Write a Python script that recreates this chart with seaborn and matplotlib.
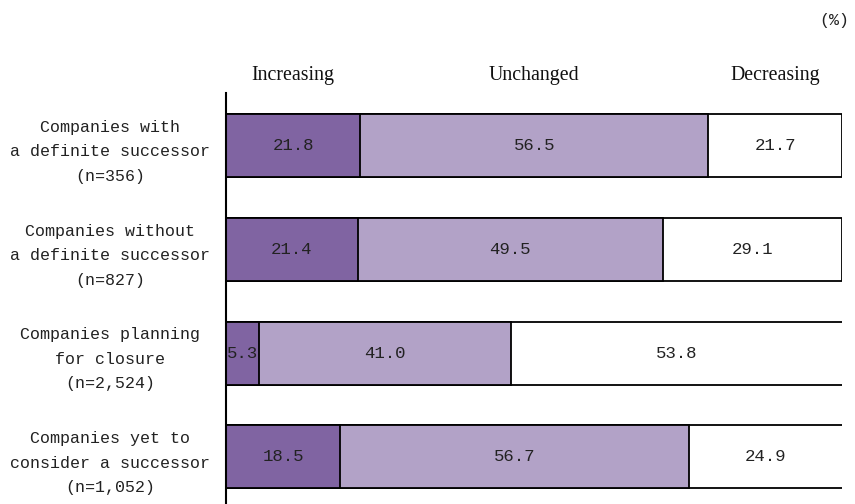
import matplotlib
matplotlib.use("Agg")
import matplotlib.pyplot as plt
import seaborn as sns
import numpy as np
import pandas as pd

# Shares of companies by outlook, per succession status (%)
groups = [
    "Companies with\na definite successor\n(n=356)",
    "Companies without\na definite successor\n(n=827)",
    "Companies planning\nfor closure\n(n=2,524)",
    "Companies yet to\nconsider a successor\n(n=1,052)",
]
series_names = ["Increasing", "Unchanged", "Decreasing"]
increasing = [21.8, 21.4, 5.3, 18.5]
unchanged = [56.5, 49.5, 41.0, 56.7]
decreasing = [21.7, 29.1, 53.8, 24.9]

colors = ["#8064A2", "#B2A2C7", "#FFFFFF"]

sns.set_theme(style="white")
mono = "Liberation Mono"
serif = "Liberation Serif"

values = np.array([increasing, unchanged, decreasing])
cum = np.cumsum(values, axis=0)

df = pd.DataFrame({"group": groups})
for name, c in zip(series_names, cum):
    df[name] = c

fig = plt.figure(figsize=(8.55, 5.04), dpi=100)
ax = fig.add_axes([226 / 855, 0.0, (842 - 226) / 855, 1 - 93 / 504])

# stacked bars: draw cumulative totals from the outside in
for name, col in reversed(list(zip(series_names, colors))):
    sns.barplot(data=df, x=name, y="group", orient="h", color=col,
                saturation=1, width=0.607, edgecolor="black", linewidth=1.3,
                ax=ax)

ax.set_xlim(0, 100)
ax.set_ylim(3.454, -0.506)
ax.set_xlabel("")
ax.set_ylabel("")
ax.set_xticks([])
for side in ["top", "right", "bottom"]:
    ax.spines[side].set_visible(False)
ax.spines["left"].set_color("black")
ax.spines["left"].set_linewidth(1.5)

ax.tick_params(axis="y", length=0, pad=83.5)
for lbl in ax.get_yticklabels():
    lbl.set_horizontalalignment("center")
    lbl.set_multialignment("center")
    lbl.set_fontfamily(mono)
    lbl.set_fontsize(12)
    lbl.set_color("#222222")
    lbl.set_linespacing(1.8)

# value labels centred in each segment
for i in range(len(groups)):
    start = 0.0
    for k in range(len(series_names)):
        v = values[k, i]
        ax.text(start + v / 2, i, f"{v:.1f}", ha="center", va="center",
                fontfamily=mono, fontsize=12.5, color="#222222")
        start += v

# column headers over the first row's segments
start = 0.0
for k, name in enumerate(series_names):
    v = values[k, 0]
    ax.text(start + v / 2, -0.675, name, ha="center", va="center",
            fontfamily=serif, fontsize=14.3, color="#111111", clip_on=False)
    start += v

fig.text(834 / 855, 1 - 20 / 504, "(%)", ha="center", va="center",
         fontfamily=mono, fontsize=12, color="#222222")

fig.savefig("out.png", dpi=100)
